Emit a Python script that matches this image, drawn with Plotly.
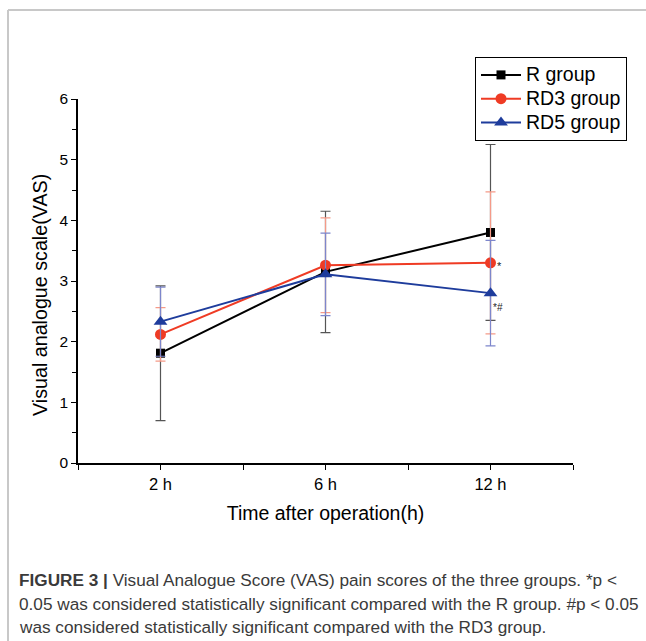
import plotly.graph_objects as go

# ---- data ----
time_labels = ["2 h", "6 h", "12 h"]
time_pos = [1, 3, 5]
groups = ["R group", "RD3 group", "RD5 group"]
r_mean = [1.81, 3.15, 3.80]
r_sd = [1.11, 1.00, 1.45]
rd3_mean = [2.12, 3.26, 3.30]
rd3_sd = [0.44, 0.78, 1.17]
rd5_mean = [2.33, 3.11, 2.80]
rd5_sd = [0.57, 0.68, 0.87]

W, H = 646, 641
L, R, T, B = 78, 73, 99, 178
PW, PH = W - L - R, H - T - B


def px(x):
    return (x - L) / PW


def py(y):
    return (H - B - y) / PH


FONT = "Arial, Liberation Sans, sans-serif"

fig = go.Figure()

series = [
    (groups[0], r_mean, r_sd, "#000000", "#555555", "square", 9),
    (groups[1], rd3_mean, rd3_sd, "#ef3b24", "#f59a88", "circle", 11),
    (groups[2], rd5_mean, rd5_sd, "#1e3c9c", "#7d86cc", "triangle-up", 12),
]
for name, m, sd, col, ecol, sym, ms in series:
    fig.add_trace(go.Scatter(
        x=time_pos, y=m, name='<span style="font-size:19.5px">' + name + '</span>',
        mode="lines+markers",
        line=dict(color=col, width=2),
        marker=dict(symbol=sym, size=ms, color=col),
        error_y=dict(type="data", array=sd, visible=True, color=ecol,
                     thickness=1.2, width=5),
    ))

fig.add_annotation(x=5, y=3.25, text="*", showarrow=False, xshift=9,
                   font=dict(family=FONT, size=11, color="#222"))
fig.add_annotation(x=5, y=2.57, text="*#", showarrow=False, xshift=7,
                   font=dict(family=FONT, size=10, color="#222"))

# y-axis title
fig.add_annotation(xref="paper", yref="paper", x=px(40), y=py(295),
                   text="Visual analogue scale(VAS)", textangle=-90, showarrow=False,
                   xanchor="center", yanchor="middle",
                   font=dict(family=FONT, size=19.7, color="#000"))

caption = [
    "<b>FIGURE 3 |</b> Visual Analogue Score (VAS) pain scores of the three groups. *p <",
    "0.05 was considered statistically significant compared with the R group. #p < 0.05",
    "was considered statistically significant compared with the RD3 group.",
]
for i, line in enumerate(caption):
    fig.add_annotation(xref="paper", yref="paper", x=px(17), y=py(580 + 23.5 * i),
                       xanchor="left", yanchor="middle", text=line, showarrow=False,
                       font=dict(family=FONT, size=17.2, color="#3a3a3a"))

# outer frame
fig.add_shape(type="line", xref="paper", yref="paper", x0=px(8), x1=px(8),
              y0=py(10), y1=py(660), line=dict(color="#c8c8c8", width=2))
fig.add_shape(type="line", xref="paper", yref="paper", x0=px(8), x1=px(660),
              y0=py(10), y1=py(10), line=dict(color="#c8c8c8", width=2))

fig.update_layout(
    width=W, height=H,
    margin=dict(l=L, r=R, t=T, b=B),
    paper_bgcolor="white", plot_bgcolor="white",
    font=dict(family=FONT, color="#000"),
    showlegend=True,
    legend=dict(x=px(475), y=py(57), xanchor="left", yanchor="top",
                bordercolor="#000", borderwidth=1, bgcolor="white",
                font=dict(family=FONT, size=16, color="#000"),
                tracegroupgap=0, itemwidth=40),
    xaxis=dict(range=[0, 6], tickmode="array", tickvals=[0, 1, 2, 3, 4, 5, 6],
               ticktext=["", time_labels[0], "", time_labels[1], "", time_labels[2], ""],
               ticks="outside", ticklen=5, tickcolor="#000", showline=True,
               linecolor="#000", linewidth=1.5, showgrid=False, zeroline=False,
               tickfont=dict(size=16.5),
               title=dict(text="Time after operation(h)", font=dict(size=19.5), standoff=15)),
    yaxis=dict(range=[0, 6], tickmode="array", tickvals=[0, 1, 2, 3, 4, 5, 6],
               ticks="outside", ticklen=5, tickcolor="#000", showline=True,
               linecolor="#000", linewidth=1.5, showgrid=False, zeroline=False,
               tickfont=dict(size=15.5),
               minor=dict(dtick=0.5, ticks="outside", ticklen=4, tickcolor="#000")),
)

fig.write_html("out.html")
